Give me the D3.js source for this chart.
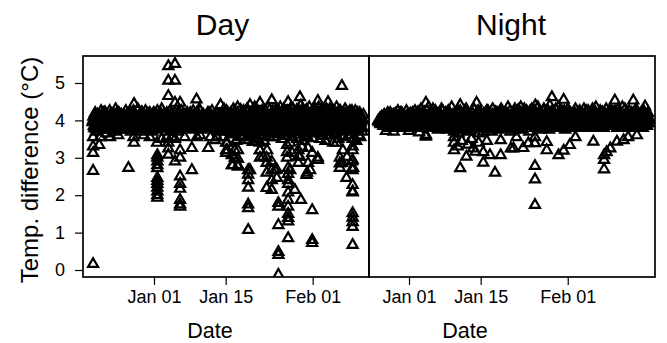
<!DOCTYPE html>
<html><head><meta charset="utf-8">
<script src="https://cdn.jsdelivr.net/npm/d3@7"></script>
<style>body{margin:0;background:#fff}svg{display:block}text{font-family:"Liberation Sans",Arial,Helvetica,sans-serif;fill:#000}</style>
</head><body><svg id="c" width="667" height="343"></svg>
<script>
// ---------- data ----------
const panelTitles = ["Day", "Night"];
const yTicks = [0, 1, 2, 3, 4, 5];
const xTickDates = ["2016-01-01", "2016-01-15", "2016-02-01"];
const yTitle = "Temp. difference (°C)";
const xTitle = "Date";
const baseDate = "2016-01-01"; // day offsets below are counted from this date
const dayDomain = ["2015-12-18T03:07Z", "2016-02-12T00:00Z"];
const nightDomain = ["2015-12-24T04:30Z", "2016-02-18T01:00Z"];

// regular readings (6 per day, two sensors) – Day panel, first day = -12
const dayBandStart = -12;
const dayBand = [
[3.95,4.10,3.80,4.20,3.70,4.05],[4.15,3.85,4.00,3.75,4.25,3.90],[3.80,4.20,3.95,4.10,3.65,4.00],
[4.05,3.75,4.25,3.90,4.10,3.85],[3.90,4.15,3.70,4.30,4.00,3.80],[4.20,3.85,4.05,3.75,4.15,3.95],
[3.75,4.10,3.90,4.25,3.80,4.05],[4.00,3.80,4.20,3.70,4.10,3.90],[4.25,3.95,3.75,4.10,3.85,4.30],
[3.85,4.15,4.00,3.70,4.20,3.95],[4.10,3.80,4.25,3.90,4.05,3.75],[3.95,4.20,3.85,4.10,3.70,4.15],
[4.05,3.75,4.15,3.90,4.25,3.80],[3.80,4.10,3.95,4.30,3.85,4.00],[4.15,3.90,3.70,4.20,4.00,3.85],
[3.90,4.25,4.05,3.75,4.10,3.95],[4.20,3.85,4.00,4.15,3.70,4.05],[3.75,4.05,4.25,3.90,4.10,3.80],
[4.10,3.95,3.80,4.20,3.85,4.00],[3.85,4.15,4.05,3.75,4.25,3.90],[4.00,3.80,4.20,4.10,3.90,4.30],
[4.25,3.90,3.75,4.05,4.15,3.85],[3.80,4.10,4.00,4.20,3.85,3.95],[4.15,3.85,4.25,3.90,4.05,3.75],
[3.95,4.20,3.80,4.10,3.70,4.00],[4.05,3.75,4.15,3.95,4.30,3.85],[3.90,4.25,4.00,3.80,4.10,3.70],
[4.20,3.65,3.95,4.30,3.85,4.05],[3.75,4.10,4.35,3.90,4.00,3.60],[4.15,3.85,3.70,4.25,3.95,4.05],
[3.95,4.30,3.80,4.10,3.65,4.20],[4.00,3.75,4.25,3.90,4.35,3.85],[4.30,3.95,3.70,4.15,3.80,4.05],
[3.85,4.20,4.05,3.60,4.25,3.90],[4.10,3.70,4.35,3.95,4.00,3.80],[3.90,4.25,3.85,4.15,3.65,4.30],
[4.20,3.80,4.00,3.75,4.35,3.95],[3.70,4.15,4.30,3.90,4.05,3.85],[4.25,3.95,3.65,4.10,3.80,4.35],
[3.85,4.30,4.00,3.75,4.20,3.95],[4.05,3.70,4.25,3.90,4.40,3.80],[4.30,3.85,3.95,4.15,3.65,4.05],
[3.80,4.20,4.35,3.90,4.00,3.70],[4.15,3.75,4.05,4.30,3.85,3.95],[3.90,4.35,3.80,4.10,3.65,4.25],
[4.25,3.95,4.05,3.70,4.30,3.85],[3.75,4.10,4.30,3.95,4.00,3.80],[4.05,3.85,3.65,4.20,4.35,3.90],
[3.95,4.25,3.80,4.05,3.75,4.15],[4.20,3.70,4.30,3.90,4.10,3.85],[3.85,4.15,4.00,3.60,4.25,3.95],
[4.10,3.80,4.25,3.90,4.05,3.75],[3.95,4.20,3.85,4.10,3.70,4.00]
];
const dayBand2 = [
[4.00,3.85,4.15,3.78,4.08,3.92],[3.88,4.12,3.80,4.05,3.95,4.18],[4.08,3.92,4.22,3.82,4.02,3.78],
[3.82,4.05,3.95,4.18,3.88,4.10],[4.12,3.78,4.02,3.90,4.20,3.85],[3.92,4.18,3.85,4.00,3.80,4.08],
[4.05,3.88,4.10,3.82,4.15,3.95],[3.80,4.02,4.20,3.92,4.05,3.88],[4.15,3.82,3.98,4.08,3.78,4.02],
[3.90,4.10,3.85,4.22,3.95,3.80],[4.02,3.78,4.12,3.88,4.18,3.92],[3.85,4.05,3.95,3.80,4.10,4.20],
[4.18,3.90,3.82,4.02,3.88,4.08],[3.95,4.20,4.05,3.85,4.00,3.78],[3.82,4.08,3.92,4.15,3.80,4.02],
[4.10,3.85,4.18,3.95,3.88,4.05],[3.88,4.02,3.80,4.08,4.22,3.92],[4.05,3.92,4.12,3.82,3.98,4.15],
[3.80,4.15,3.90,4.05,3.85,4.10],[4.20,3.88,4.00,3.92,4.12,3.82],[3.92,4.05,3.85,4.18,3.80,4.02],
[4.08,3.80,4.15,3.90,4.02,3.95],[3.85,4.12,3.95,3.82,4.20,4.05],[4.02,3.90,4.10,4.00,3.80,3.88],
[3.90,4.18,3.82,4.05,3.95,4.12],[4.12,3.85,4.02,3.78,4.08,3.92],[3.82,4.00,4.20,3.92,3.88,4.15],
[4.05,3.75,4.12,3.88,4.22,3.70],[3.88,4.20,3.72,4.05,3.95,4.28],[4.18,3.82,4.08,3.68,4.15,3.92],
[3.72,4.05,4.25,3.85,4.00,3.78],[4.10,3.88,3.70,4.20,3.82,4.28],[3.85,4.22,3.95,3.75,4.12,3.68],
[4.25,3.78,4.02,4.15,3.72,4.08],[3.80,4.12,3.88,4.28,3.70,3.98],[4.02,3.72,4.18,3.85,4.25,3.90],
[3.90,4.28,3.75,4.02,3.82,4.15],[4.15,3.85,4.08,3.70,4.20,3.78],[3.78,4.02,3.88,4.25,3.92,4.10],
[4.08,3.75,4.22,3.82,3.98,4.28],[3.92,4.15,3.70,4.08,3.85,4.20],[4.20,3.82,4.05,3.72,4.28,3.88],
[3.75,4.08,3.92,4.18,3.70,4.02],[4.12,3.88,4.28,3.80,4.05,3.72],[3.85,4.22,4.00,3.75,4.15,3.90],
[4.02,3.70,4.12,3.92,3.82,4.25],[3.90,4.18,3.78,4.05,4.22,3.85],[4.15,3.92,4.08,3.72,3.88,4.02],
[3.82,4.05,4.25,3.88,4.12,3.75],[4.08,3.80,3.95,4.20,3.72,4.12],[3.92,4.25,3.82,4.02,3.88,4.15],
[4.05,3.85,4.12,3.78,4.20,3.92],[3.88,4.10,3.95,4.05,3.80,4.15]
];

// regular readings (6 per day, two sensors) – Night panel, first day = -6
const nightBandStart = -6;
const nightBand = [
[4.00,3.95,4.05,3.90,4.10,4.00],[3.85,4.15,3.95,4.05,3.90,4.20],[4.10,3.80,4.20,3.95,4.05,3.85],
[3.90,4.15,3.80,4.10,4.00,4.25],[4.05,3.85,4.20,3.90,4.15,3.80],[3.95,4.10,3.85,4.25,3.90,4.05],
[4.15,3.80,4.05,3.95,4.20,3.85],[3.90,4.25,4.00,3.80,4.10,3.95],[4.20,3.85,4.30,3.95,4.05,3.80],
[3.80,4.15,3.95,4.25,3.90,4.35],[4.05,3.90,4.20,3.80,4.30,4.00],[3.95,4.25,3.85,4.10,3.75,4.15],
[4.10,3.80,4.30,3.95,4.05,3.85],[3.85,4.20,4.00,3.75,4.25,3.95],[4.15,3.90,4.35,3.80,4.05,3.70],
[3.80,4.10,3.95,4.25,3.65,4.00],[4.25,3.85,4.05,3.75,4.15,3.90],[3.90,4.30,3.80,4.10,3.70,4.05],
[4.05,3.75,4.20,3.95,4.30,3.85],[3.80,4.15,3.90,4.25,3.65,4.00],[4.20,3.85,4.05,3.70,4.10,3.95],
[3.95,4.25,3.80,4.15,3.75,4.05],[4.10,3.70,4.30,3.90,4.00,3.80],[3.85,4.20,3.95,4.10,3.75,4.25],
[4.30,3.90,4.05,3.80,4.15,3.95],[3.80,4.15,4.35,3.95,4.05,3.70],[4.05,3.85,4.20,3.75,4.30,3.90],
[3.90,4.25,3.80,4.10,3.95,4.35],[4.15,3.75,4.05,4.30,3.85,4.00],[3.85,4.20,3.95,3.70,4.25,4.10],
[4.30,3.90,4.10,3.80,4.40,3.95],[3.80,4.35,4.00,4.20,3.75,4.05],[4.10,3.85,4.30,3.95,4.15,3.80],
[3.95,4.25,3.75,4.40,3.90,4.05],[4.20,3.80,4.05,3.90,4.30,3.85],[3.85,4.35,3.95,4.15,3.80,4.25],
[4.05,3.90,4.25,3.75,4.10,4.00],[4.30,3.85,4.00,4.20,3.90,3.80],[3.90,4.15,3.80,4.30,4.05,3.95],
[4.10,3.85,4.25,3.95,3.80,4.15],[3.95,4.30,3.90,4.05,4.20,3.80],[4.25,3.80,4.10,3.85,4.00,4.30],
[3.85,4.20,3.95,4.35,3.80,4.05],[4.05,3.90,4.25,3.80,4.15,3.95],[3.80,4.15,4.00,4.30,3.85,4.10],
[4.20,3.85,4.30,3.95,4.05,3.90],[3.95,4.25,3.85,4.10,3.80,4.30],[4.10,3.80,4.20,3.95,4.35,3.85],
[3.85,4.30,4.05,3.90,4.15,3.80],[4.25,3.90,3.80,4.20,4.00,4.10],[3.90,4.15,4.30,3.85,4.05,3.95],
[4.05,3.85,4.20,4.00,3.80,4.25],[4.15,3.90,4.05,3.85,4.20,4.00]
];
const nightBand2 = [
[3.98,4.02,3.92,4.08,3.95,4.05],[4.05,3.90,4.10,3.88,4.02,3.95],[3.92,4.12,3.85,4.05,3.98,4.15],
[4.08,3.88,4.18,3.92,4.05,3.85],[3.85,4.10,3.95,4.20,3.88,4.02],[4.12,3.92,4.05,3.82,4.15,3.90],
[3.88,4.18,3.92,4.08,3.85,4.12],[4.02,3.85,4.15,3.95,4.22,3.88],[3.90,4.10,3.82,4.18,3.95,4.05],
[4.15,3.88,4.05,3.82,4.12,3.92],[3.85,4.22,3.95,4.08,3.80,4.15],[4.05,3.82,4.18,3.92,4.10,3.88],
[3.92,4.15,3.85,4.25,3.95,4.02],[4.18,3.90,4.08,3.82,4.02,4.20],[3.88,4.05,3.92,4.15,3.80,4.10],
[4.10,3.85,4.22,3.90,4.05,3.82],[3.82,4.15,3.95,4.08,3.88,4.25],[4.05,3.92,4.18,3.80,4.12,3.95],
[3.90,4.20,3.85,4.05,3.82,4.12],[4.15,3.88,4.02,4.22,3.92,3.85],[3.85,4.08,3.95,4.18,3.80,4.05],
[4.12,3.82,4.25,3.92,4.02,3.88],[3.92,4.15,3.80,4.08,3.95,4.22],[4.05,3.88,4.12,3.85,4.18,3.92],
[3.82,4.22,3.95,4.10,3.88,4.02],[4.18,3.90,4.05,3.82,4.25,3.95],[3.95,4.12,3.85,4.20,3.92,4.08],
[4.08,3.85,4.28,3.92,4.02,3.82],[3.88,4.18,3.95,4.12,3.85,4.25],[4.22,3.92,4.05,3.88,4.15,3.95],
[3.85,4.12,3.92,4.25,3.82,4.08],[4.10,3.88,4.20,3.95,4.02,3.85],[3.92,4.25,3.85,4.05,3.95,4.18],
[4.15,3.82,4.08,3.92,4.22,3.88],[3.88,4.18,3.95,4.12,3.85,4.02],[4.05,3.92,4.25,3.82,4.10,3.95],
[3.95,4.12,3.88,4.20,3.92,4.08],[4.20,3.85,4.05,3.95,4.15,3.88],[3.85,4.22,3.92,4.08,3.82,4.15],
[4.08,3.95,4.18,3.85,4.02,3.92],[3.92,4.10,3.85,4.25,3.95,4.05],[4.15,3.88,4.02,3.92,4.20,3.85],
[3.88,4.25,3.95,4.08,3.85,4.12],[4.05,3.85,4.15,3.95,4.22,3.90],[3.95,4.18,3.88,4.05,3.92,4.20],
[4.12,3.90,4.22,3.85,4.08,3.95],[3.85,4.05,3.95,4.18,3.88,4.10],[4.20,3.92,4.08,3.82,4.15,3.90],
[3.92,4.15,3.85,4.22,3.95,4.05],[4.08,3.88,4.18,3.92,4.02,3.85],[3.95,4.22,3.90,4.10,3.85,4.15],
[4.12,3.92,4.05,3.88,4.18,3.95],[3.90,4.08,3.95,4.12,3.92,4.05]
];

// departures from the band: [day offset, value]
const dayExtra = [
[-11.9,0.16],[-11.9,2.65],[-11.9,3.13],[-11.9,3.30],[-10.7,3.34],[-11.9,3.55],[-10.5,3.55],[-8.6,3.55],
[-5.0,2.73],[-3.9,3.40],[-3.9,4.44],[-4.0,3.55],[-0.8,3.55],[-7.0,3.60],[-2.0,3.60],
[0.6,3.40],[0.65,3.07],[0.65,3.00],[0.65,2.90],[0.65,2.80],[0.65,2.72],[0.65,2.46],[0.65,2.38],
[0.65,2.30],[0.65,2.20],[0.65,2.10],[0.65,2.00],[0.65,1.93],[1.5,3.50],
[2.8,3.40],[2.8,3.25],[2.8,3.08],[2.8,5.45],[2.8,5.06],[2.8,4.65],[2.5,3.55],[3.5,3.55],
[4.1,5.51],[4.1,5.06],[4.1,4.47],[4.1,2.90],[4.1,3.50],
[5.1,4.47],[5.1,3.20],[5.1,3.00],[5.1,2.50],[5.1,2.30],[5.1,2.17],[5.1,1.87],[5.1,1.75],[5.1,1.69],[6.0,3.55],
[7.4,2.67],[7.4,3.26],[8.3,4.56],[8.4,3.55],[9.0,3.60],[10.6,3.26],[11.0,3.55],[11.9,3.47],[12.3,3.55],
[13.0,4.41],[13.5,3.55],[14.1,3.40],[14.1,3.20],[14.1,3.13],
[15.2,3.07],[15.2,2.80],[16.0,3.45],[16.4,3.20],[16.4,2.97],[16.4,2.80],[16.4,2.76],[17.0,3.55],
[18.4,2.67],[18.4,2.55],[18.4,2.40],[18.4,2.20],[18.4,1.75],[18.4,1.65],[18.4,1.07],[18.75,4.41],
[19.0,3.55],[20.0,3.50],[20.7,4.47],[20.7,3.40],[20.7,3.20],[20.7,3.00],[21.5,3.45],
[22.0,3.00],[22.0,2.86],[22.0,2.19],[22.0,2.60],
[23.0,2.67],[23.0,2.40],[23.0,2.14],[23.0,4.54],[23.5,3.55],
[24.0,2.46],[24.0,2.68],[24.3,1.79],[24.3,1.69],[24.3,1.20],[24.3,0.48],[24.3,0.40],[24.3,-0.13],[25.0,3.50],
[26.0,3.34],[26.0,3.15],[26.0,3.00],[26.2,2.73],[26.2,2.57],[26.2,2.40],[26.2,2.30],[26.2,2.07],
[26.2,1.87],[26.2,1.69],[26.2,1.50],[26.2,1.39],[26.2,1.30],[26.2,0.85],[26.2,4.49],
[27.0,3.55],[27.5,2.14],[28.2,3.20],[28.2,3.05],[28.2,2.86],[28.5,4.62],[28.7,1.87],[29.0,3.45],
[29.8,2.54],[30.0,3.55],[30.9,3.13],[30.9,1.60],[30.9,0.80],[30.9,0.72],
[32.0,2.94],[32.0,4.52],[32.5,3.50],[34.0,4.49],[34.5,3.60],[35.0,3.40],
[36.3,3.00],[36.3,2.85],[36.3,2.73],[36.7,4.92],[37.0,3.55],[37.6,2.46],
[38.8,3.50],[38.8,3.30],[38.8,3.20],[38.8,2.94],[38.8,2.73],[38.8,2.67],[38.8,2.27],[38.8,2.10],
[38.8,2.07],[38.8,1.52],[38.8,1.40],[38.8,1.28],[38.8,1.15],[38.8,0.67],[39.5,3.45],[40.0,3.60],
[14.3,3.40],[16.2,3.47],[15.8,3.20],[15.8,3.00],[14.3,3.20],[15.4,2.80],[18.4,3.47],[19.3,3.42],
[20.7,3.20],[22.1,3.20],[23.0,2.90],[21.3,3.02],[26.6,3.40],[27.0,3.13],[28.9,3.29],[28.5,3.02],
[30.1,3.26],[30.1,2.86],[32.0,3.00],[30.5,2.67],[35.7,3.40],[36.9,3.20],[37.7,3.02],[38.7,2.90],
[38.9,2.73],[36.7,2.86],[23.6,2.67],[26.6,2.67],[29.9,2.60],[18.75,2.67],
[15.0,3.62],[17.5,3.58],[19.5,3.65],[21.0,3.60],[22.5,3.55],[24.5,3.62],[25.5,3.58],[27.5,3.62],
[28.0,3.50],[29.5,3.60],[31.0,3.52],[31.5,3.65],[33.0,3.58],[33.5,3.45],[35.5,3.62],[36.0,3.50],
[38.0,3.60],[39.0,3.52],[40.3,3.55]
];
const nightExtra = [
[-4.5,3.72],[-3.0,3.70],[0.0,3.72],[2.0,3.68],
[3.3,3.56],[3.3,3.61],[3.3,4.47],
[8.8,3.20],[8.8,3.40],[8.8,3.55],[9.5,3.30],
[10.0,2.72],[10.0,4.41],[10.3,3.45],
[11.2,3.03],[11.5,3.35],[12.2,3.50],[12.5,3.25],
[13.0,3.16],[13.2,4.47],[13.6,3.40],
[14.5,2.87],[14.5,3.15],[15.2,3.45],[15.8,3.07],
[16.8,2.60],[17.9,3.07],[17.9,3.47],
[19.9,3.25],[20.4,3.25],[21.0,3.55],[22.3,3.26],[23.3,3.39],
[24.6,1.74],[24.6,2.42],[24.6,2.78],[24.6,3.39],[24.6,3.55],
[26.9,3.20],[26.9,3.42],[27.9,4.62],
[29.2,3.07],[30.2,3.19],[30.2,4.55],[31.4,3.34],[32.5,3.55],
[36.0,3.43],[38.1,3.07],[38.1,2.94],[38.1,2.69],[38.6,3.15],
[39.3,3.25],[40.2,4.53],[40.6,3.43],[41.9,3.47],[42.8,3.55],[43.8,4.53],[44.5,3.60],[46.1,4.37]
];

// ---------- drawing ----------
const svg = d3.select("#c");
const plotTop = 56, plotBottom = 277;
const panelX = [[83, 369], [369, 655]];
const titleX = [222.5, 511];
const dateX = [210, 465];
const y = d3.scaleLinear().domain([0, 5]).range([270, 83]);
const base = new Date(baseDate).getTime();
const toDate = d => new Date(base + d * 864e5);
const sym = d3.symbol(d3.symbolTriangle, 44);

const panels = [
  {domain: dayDomain, start: dayBandStart, bands: [dayBand, dayBand2], extra: dayExtra},
  {domain: nightDomain, start: nightBandStart, bands: [nightBand, nightBand2], extra: nightExtra}
];

panels.forEach((p, k) => {
  const [x0, x1] = panelX[k];
  const x = d3.scaleUtc().domain(p.domain.map(s => new Date(s))).range([x0, x1]);
  const pts = [];
  p.bands.forEach((band, b) => band.forEach((vals, i) =>
    vals.forEach((v, j) => pts.push([p.start + i + (j + b * 0.5) / vals.length, v]))));
  p.extra.forEach(e => pts.push(e));

  svg.append("clipPath").attr("id", "clip" + k)
    .append("rect").attr("x", x0).attr("y", plotTop).attr("width", x1 - x0).attr("height", plotBottom - plotTop);

  svg.append("g").attr("clip-path", `url(#clip${k})`)
    .selectAll("path").data(pts).join("path")
    .attr("d", sym)
    .attr("transform", d => `translate(${x(toDate(d[0]))},${y(d[1])})`)
    .attr("fill", "none").attr("stroke", "#000").attr("stroke-width", 2.2);

  const ax = svg.append("g").attr("transform", `translate(0,${plotBottom})`)
    .call(d3.axisBottom(x)
      .tickValues(xTickDates.map(s => new Date(s)))
      .tickFormat(d3.utcFormat("%b %d"))
      .tickSize(8).tickPadding(5));
  ax.select(".domain").remove();
  ax.selectAll("line").attr("stroke", "#000").attr("stroke-width", 1.2);
  ax.selectAll("text").attr("font-size", 18).attr("font-family", null).attr("fill", "#000");

  svg.append("rect").attr("x", x0).attr("y", plotTop).attr("width", x1 - x0).attr("height", plotBottom - plotTop)
    .attr("fill", "none").attr("stroke", "#000").attr("stroke-width", 1.7);

  svg.append("text").attr("x", titleX[k]).attr("y", 35).attr("text-anchor", "middle")
    .attr("font-size", 30).text(panelTitles[k]);
  svg.append("text").attr("x", dateX[k]).attr("y", 338).attr("text-anchor", "middle")
    .attr("font-size", 21.5).text(xTitle);
});

const ay = svg.append("g").attr("transform", `translate(${panelX[0][0]},0)`)
  .call(d3.axisLeft(y).tickValues(yTicks).tickFormat(d3.format("d")).tickSize(8).tickPadding(10));
ay.select(".domain").remove();
ay.selectAll("line").attr("stroke", "#000").attr("stroke-width", 1.2);
ay.selectAll("text").attr("font-size", 18).attr("font-family", null).attr("fill", "#000");

svg.append("text").attr("transform", "translate(37.5,170) rotate(-90)")
  .attr("text-anchor", "middle").attr("font-size", 24).text(yTitle);
</script></body></html>
